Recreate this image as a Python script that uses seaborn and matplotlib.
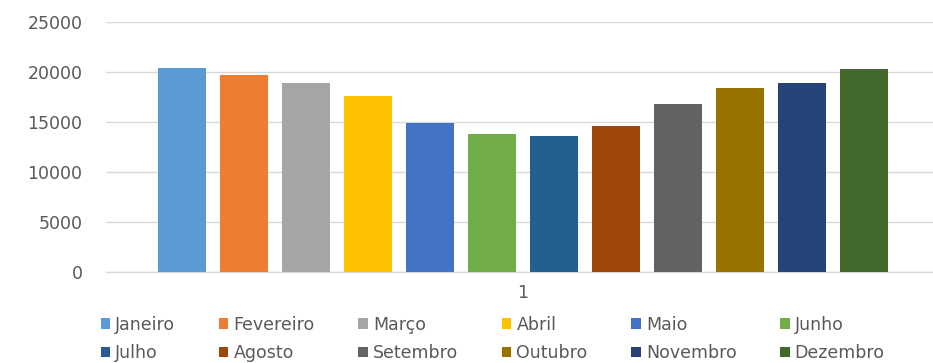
import matplotlib
matplotlib.use("Agg")
import matplotlib.pyplot as plt
import seaborn as sns
import pandas as pd

# valores
meses = ["Janeiro", "Fevereiro", "Março", "Abril", "Maio", "Junho",
         "Julho", "Agosto", "Setembro", "Outubro", "Novembro", "Dezembro"]
valores = [20400, 19700, 18900, 17600, 14900, 13800,
           13600, 14600, 16800, 18400, 18900, 20300]
cores = ["#5B9BD5", "#ED7D31", "#A5A5A5", "#FFC000", "#4472C4", "#70AD47",
         "#255E91", "#9E480E", "#636363", "#997300", "#264478", "#43682B"]
categoria = "1"
yticks = [0, 5000, 10000, 15000, 20000, 25000]

sns.set_style("white")
plt.rcParams["font.family"] = ["DejaVu Sans"]

df = pd.DataFrame({"grupo": [categoria] * len(meses), "mes": meses, "valor": valores})

fig = plt.figure(figsize=(9.33, 3.63), dpi=100)
ax = fig.add_axes([0.1136, 0.2507, 0.893, 0.6887])
sns.barplot(data=df, x="grupo", y="valor", hue="mes", hue_order=meses,
            palette=cores, saturation=1, width=0.893, gap=0.226,
            linewidth=0, ax=ax)

ax.set_xlim(-0.5, 0.5)
ax.set_ylim(0, 25000)
ax.set_yticks(yticks)
ax.yaxis.grid(True, color="#d9d9d9", lw=1)
ax.axhline(0, color="#d9d9d9", lw=1, clip_on=False, zorder=0)
ax.set_axisbelow(True)
for s in ax.spines.values():
    s.set_visible(False)
ax.tick_params(length=0, colors="#595959", labelsize=12.5)
ax.tick_params(axis="y", pad=17)
ax.tick_params(axis="x", pad=9)
ax.set_xlabel("")
ax.set_ylabel("")

# legenda em duas linhas, ordem por linha como no Excel
handles, labels = ax.get_legend_handles_labels()
ax.get_legend().remove()
ordem = [0, 6, 1, 7, 2, 8, 3, 9, 4, 10, 5, 11]
fig.legend([handles[i] for i in ordem], [labels[i] for i in ordem],
           ncol=6, loc="center", bbox_to_anchor=(0.528, 0.066), frameon=False,
           handlelength=0.55, handleheight=0.55, handletextpad=0.3,
           columnspacing=2.5, labelspacing=0.6, fontsize=12.5,
           labelcolor="#595959", borderaxespad=0)

fig.savefig("out.png", dpi=100)
